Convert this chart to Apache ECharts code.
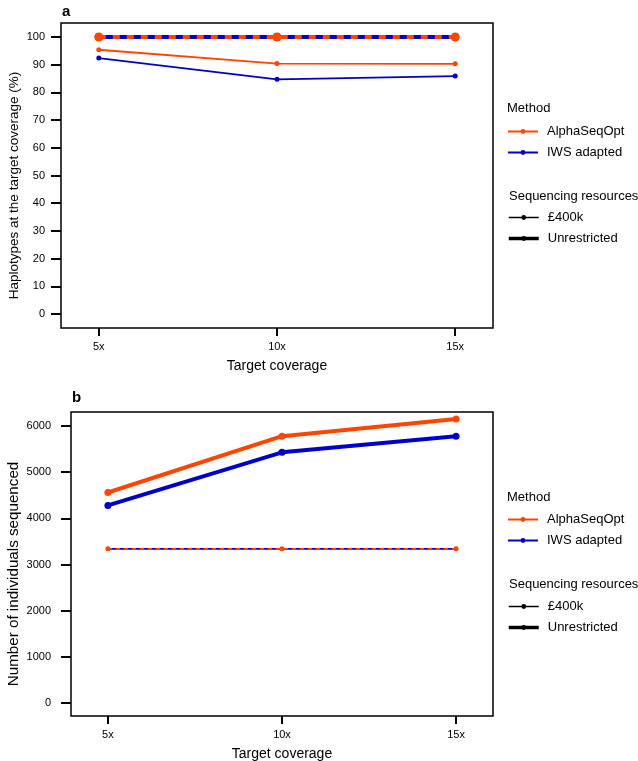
<!DOCTYPE html>
<html>
<head>
<meta charset="utf-8">
<script src="https://cdn.jsdelivr.net/npm/echarts@6/dist/echarts.min.js"></script>
<style>
  html, body { margin: 0; padding: 0; background: #fff; }
  #main { width: 638px; height: 761px; }
</style>
</head>
<body>
<div id="main"></div>
<script>
// data
const coverage = [5, 10, 15];
const coverageLabels = ['5x', '10x', '15x'];

// panel a: haplotypes at target coverage (%)
const hapAlpha400k = [95.4, 90.4, 90.3];
const hapIws400k = [92.4, 84.7, 85.9];
const hapAlphaUnres = [100, 100, 100];
const hapIwsUnres = [100, 100, 100];
const hapTicks = [0, 10, 20, 30, 40, 50, 60, 70, 80, 90, 100];

// panel b: number of individuals sequenced
const indAlpha400k = [3340, 3340, 3340];
const indIws400k = [3340, 3340, 3340];
const indAlphaUnres = [4560, 5780, 6150];
const indIwsUnres = [4280, 5430, 5780];
const indTicks = [0, 1000, 2000, 3000, 4000, 5000, 6000];

const ORANGE = '#ff4500';
const BLUE = '#0000cd';
const FONT = 'Liberation Sans';

function pairs(ys) {
    return coverage.map((x, i) => [x, ys[i]]);
}

function lineSeries(name, idx, ys, color, width, size, dash) {
    return {
        name: name,
        type: 'line',
        xAxisIndex: idx,
        yAxisIndex: idx,
        data: pairs(ys),
        symbol: 'circle',
        symbolSize: size,
        showSymbol: true,
        animation: false,
        itemStyle: { color: color },
        lineStyle: { color: color, width: width, type: dash || 'solid' },
        emphasis: { disabled: true }
    };
}

function xAxisDef(idx) {
    return {
        type: 'value',
        gridIndex: idx,
        min: 3.94,
        max: 16.06,
        name: 'Target coverage',
        nameLocation: 'middle',
        nameGap: 31,
        nameTextStyle: { fontFamily: FONT, fontSize: 14, color: '#000' },
        axisLine: { show: false, onZero: false },
        splitLine: { show: false },
        axisTick: {
            show: true,
            length: 8,
            customValues: coverage,
            lineStyle: { color: '#000', width: 2 }
        },
        axisLabel: {
            customValues: coverage,
            margin: 13,
            fontFamily: FONT,
            fontSize: 11,
            color: '#000',
            formatter: v => coverageLabels[coverage.indexOf(v)]
        }
    };
}

function yAxisDef(idx, min, max, ticks, name, gap, nameSize, margin) {
    return {
        type: 'value',
        gridIndex: idx,
        min: min,
        max: max,
        name: name,
        nameLocation: 'middle',
        nameGap: gap,
        nameMoveOverlap: false,
        nameTextStyle: { fontFamily: FONT, fontSize: nameSize, color: '#000', padding: [0, 20, 0, 0] },
        axisLine: { show: false, onZero: false },
        splitLine: { show: false },
        axisTick: {
            show: true,
            length: 10,
            customValues: ticks,
            lineStyle: { color: '#000', width: 2 }
        },
        axisLabel: {
            customValues: ticks,
            margin: margin,
            fontFamily: FONT,
            fontSize: 11,
            color: '#000',
            formatter: v => String(v)
        }
    };
}

function legendDef(top, items) {
    return {
        orient: 'vertical',
        left: 507,
        top: top,
        padding: 0,
        itemWidth: 30,
        itemHeight: 6,
        itemGap: 8,
        selectedMode: false,
        data: items,
        textStyle: { fontFamily: FONT, fontSize: 13, color: '#000', padding: [0, 0, 0, 4] }
    };
}

const methodItems = [
    { name: 'AlphaSeqOpt', lineStyle: { width: 2 } },
    { name: 'IWS adapted', lineStyle: { width: 2 } }
];
const resourceItems = [
    { name: '£400k', lineStyle: { width: 1.5 } },
    { name: 'Unrestricted', lineStyle: { width: 3.5 } }
];

function label(text, left, top, bold) {
    return {
        text: text,
        left: left,
        top: top,
        padding: 0,
        textStyle: {
            fontFamily: FONT,
            fontSize: bold ? 15 : 13,
            fontWeight: bold ? 'bold' : 'normal',
            color: '#000'
        }
    };
}

const chart = echarts.init(document.getElementById('main'));

const option = {
    backgroundColor: '#fff',
    animation: false,
    title: [
        label('a', 62, 4, true),
        label('b', 72, 390, true),
        label('Method', 507, 102, false),
        label('Sequencing resources', 509, 190, false),
        label('Method', 507, 491, false),
        label('Sequencing resources', 509, 578, false)
    ],
    legend: [
        legendDef(125, methodItems),
        legendDef(211, resourceItems),
        legendDef(513, methodItems),
        legendDef(600, resourceItems)
    ],
    grid: [
        { left: 61, top: 23, right: 145, height: 305, outerBoundsMode: 'none', show: true, borderColor: '#000', borderWidth: 1.5, backgroundColor: 'transparent' },
        { left: 71, top: 412, right: 145, height: 304, outerBoundsMode: 'none', show: true, borderColor: '#000', borderWidth: 1.5, backgroundColor: 'transparent' }
    ],
    xAxis: [xAxisDef(0), xAxisDef(1)],
    yAxis: [
        yAxisDef(0, -5.05, 105.05, hapTicks, 'Haplotypes at the target coverage (%)', 40, 13.5, 16),
        yAxisDef(1, -282, 6304, indTicks, 'Number of individuals sequenced', 50, 15.2, 20)
    ],
    series: [
        // panel a
        lineSeries('AlphaSeqOpt', 0, hapAlpha400k, ORANGE, 1.8, 5),
        lineSeries('IWS adapted', 0, hapIws400k, BLUE, 1.8, 5),
        lineSeries('IWS adapted', 0, hapIwsUnres, BLUE, 4, 8),
        lineSeries('AlphaSeqOpt', 0, hapAlphaUnres, ORANGE, 4, 9, [7, 7]),
        // panel b
        lineSeries('AlphaSeqOpt', 1, indAlphaUnres, ORANGE, 4, 7),
        lineSeries('IWS adapted', 1, indIwsUnres, BLUE, 4, 7),
        lineSeries('IWS adapted', 1, indIws400k, BLUE, 1.8, 4),
        lineSeries('AlphaSeqOpt', 1, indAlpha400k, ORANGE, 1.8, 5, [4, 4]),
        // legend keys for sequencing resources
        {
            name: '£400k', type: 'line', data: [], symbol: 'circle', symbolSize: 4,
            itemStyle: { color: '#000' }, lineStyle: { color: '#000', width: 1.5 }
        },
        {
            name: 'Unrestricted', type: 'line', data: [], symbol: 'circle', symbolSize: 6,
            itemStyle: { color: '#000' }, lineStyle: { color: '#000', width: 3.5 }
        }
    ]
};

chart.setOption(option);

window.addEventListener('resize', function() {
    chart.resize();
});
</script>
</body>
</html>
